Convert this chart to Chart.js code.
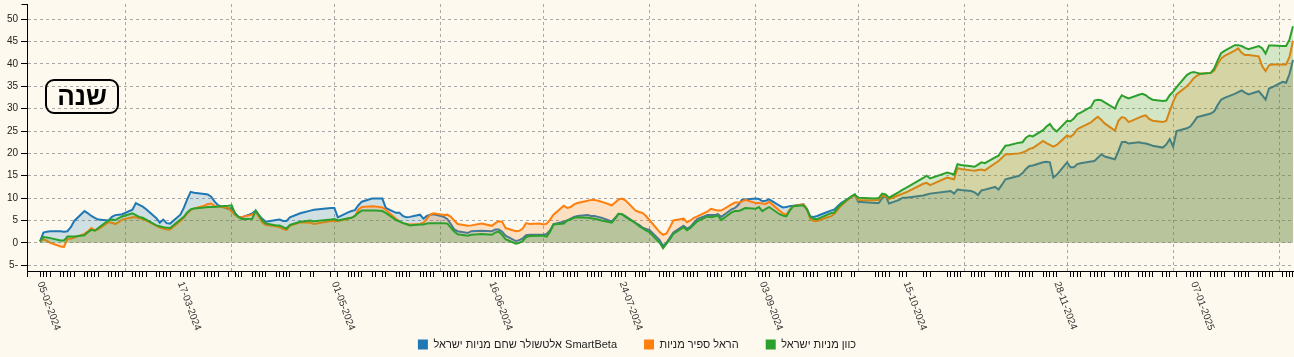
<!DOCTYPE html>
<html>
<head>
<meta charset="utf-8">
<script src="https://cdn.jsdelivr.net/npm/chart.js@4.4.1/dist/chart.umd.min.js"></script>
<style>
html,body{margin:0;padding:0;background:#fdf9ee;}
#wrap{position:relative;width:1294px;height:357px;overflow:hidden;}
canvas{display:block;}
#yearBtn{position:absolute;left:45px;top:79px;width:70px;height:31px;border:2px solid #000;border-radius:9px;
  font:bold 26px "Liberation Sans",Arial,sans-serif;color:#000;display:flex;align-items:center;justify-content:center;direction:rtl;}
</style>
</head>
<body>
<div id="wrap">
<canvas id="c" width="1294" height="357"></canvas>
<div id="yearBtn">שנה</div>
</div>
<script>
// ---- trading dates (one per data point) ----
const dates = [
"2024-02-05","2024-02-06","2024-02-07","2024-02-08","2024-02-11","2024-02-12","2024-02-13","2024-02-14","2024-02-15","2024-02-18","2024-02-19","2024-02-20","2024-02-21","2024-02-22","2024-02-25","2024-02-26","2024-02-27","2024-02-28","2024-02-29",
"2024-03-03","2024-03-04","2024-03-05","2024-03-06","2024-03-07","2024-03-10","2024-03-11","2024-03-12","2024-03-13","2024-03-14","2024-03-17","2024-03-18","2024-03-19","2024-03-20","2024-03-21","2024-03-24","2024-03-25","2024-03-26","2024-03-27","2024-03-28","2024-03-31",
"2024-04-01","2024-04-02","2024-04-03","2024-04-04","2024-04-07","2024-04-08","2024-04-09","2024-04-10","2024-04-11","2024-04-14","2024-04-15","2024-04-16","2024-04-17","2024-04-18","2024-04-21","2024-04-24","2024-04-25","2024-04-30",
"2024-05-01","2024-05-02","2024-05-05","2024-05-06","2024-05-07","2024-05-08","2024-05-09","2024-05-12","2024-05-13","2024-05-15","2024-05-16","2024-05-19","2024-05-20","2024-05-21","2024-05-22","2024-05-23","2024-05-26","2024-05-27","2024-05-28","2024-05-29","2024-05-30",
"2024-06-02","2024-06-03","2024-06-04","2024-06-05","2024-06-06","2024-06-09","2024-06-10","2024-06-13","2024-06-16","2024-06-17","2024-06-18","2024-06-19","2024-06-20","2024-06-23","2024-06-24","2024-06-25","2024-06-26","2024-06-27","2024-06-30",
"2024-07-01","2024-07-02","2024-07-03","2024-07-04","2024-07-07","2024-07-08","2024-07-09","2024-07-10","2024-07-11","2024-07-14","2024-07-15","2024-07-16","2024-07-17","2024-07-18","2024-07-21","2024-07-22","2024-07-23","2024-07-24","2024-07-25","2024-07-28","2024-07-29","2024-07-30","2024-07-31",
"2024-08-01","2024-08-04","2024-08-05","2024-08-06","2024-08-07","2024-08-08","2024-08-11","2024-08-12","2024-08-13","2024-08-14","2024-08-15","2024-08-18","2024-08-19","2024-08-20","2024-08-21","2024-08-22","2024-08-25","2024-08-26","2024-08-27","2024-08-28","2024-08-29",
"2024-09-01","2024-09-02","2024-09-03","2024-09-04","2024-09-05","2024-09-08","2024-09-09","2024-09-10","2024-09-11","2024-09-12","2024-09-15","2024-09-16","2024-09-17","2024-09-18","2024-09-19","2024-09-22","2024-09-23","2024-09-24","2024-09-25","2024-09-26","2024-09-29","2024-09-30",
"2024-10-01","2024-10-06","2024-10-07","2024-10-08","2024-10-09","2024-10-10","2024-10-13","2024-10-14","2024-10-15","2024-10-20","2024-10-21","2024-10-22","2024-10-27","2024-10-28","2024-10-29","2024-10-30","2024-10-31",
"2024-11-03","2024-11-04","2024-11-05","2024-11-06","2024-11-07","2024-11-10","2024-11-11","2024-11-12","2024-11-13","2024-11-14","2024-11-17","2024-11-18","2024-11-19","2024-11-20","2024-11-21","2024-11-24","2024-11-25","2024-11-26","2024-11-27","2024-11-28",
"2024-12-01","2024-12-02","2024-12-03","2024-12-04","2024-12-05","2024-12-08","2024-12-09","2024-12-10","2024-12-11","2024-12-12","2024-12-15","2024-12-16","2024-12-17","2024-12-18","2024-12-19","2024-12-22","2024-12-23","2024-12-24","2024-12-25","2024-12-26","2024-12-29","2024-12-30","2024-12-31",
"2025-01-01","2025-01-02","2025-01-05","2025-01-06","2025-01-07","2025-01-08","2025-01-09","2025-01-12","2025-01-13","2025-01-14","2025-01-15","2025-01-16","2025-01-19","2025-01-20","2025-01-21","2025-01-22","2025-01-23","2025-01-26","2025-01-27","2025-01-28","2025-01-29","2025-01-30",
"2025-02-02","2025-02-03","2025-02-04","2025-02-05"
];

// ---- series (cumulative return, %) ----
const altshulerSmartBeta = [
0.3,2.3,2.5,2.6,2.6,2.5,2.6,3.5,4.9,7.1,6.6,6.0,5.6,5.2,5.0,5.8,6.2,6.3,6.4,
7.4,8.9,8.5,8.1,7.5,5.5,4.5,5.2,4.4,4.3,6.3,7.8,9.7,11.4,11.2,10.9,10.8,10.3,9.2,8.4,7.6,
7.8,6.6,5.8,5.7,6.6,7.2,6.1,5.3,4.7,5.1,5.2,4.9,4.9,5.7,6.6,7.2,7.4,7.8,
7.8,5.7,6.8,7.1,7.3,8.4,9.2,9.9,9.9,9.9,7.8,6.7,6.7,6.0,5.7,5.8,6.3,5.4,6.0,6.3,6.4,
5.8,5.3,4.2,3.0,2.6,2.2,2.6,2.7,2.6,3.0,3.0,2.5,1.6,0.4,0.6,1.0,1.7,1.8,1.8,
1.8,2.0,2.8,4.2,4.7,5.0,5.4,5.8,6.0,6.2,6.0,6.0,5.8,5.6,4.8,5.6,6.5,6.4,6.0,4.4,4.0,3.4,3.1,
2.9,0.6,-0.8,0.0,1.2,2.3,3.8,3.2,3.6,4.5,5.3,6.2,6.2,6.2,6.4,5.8,7.5,7.8,8.5,9.6,9.7,
9.9,9.8,9.3,9.4,9.7,8.3,7.9,8.0,8.2,8.3,8.6,7.6,5.9,5.8,6.0,6.9,7.2,7.4,8.2,8.9,10.3,10.8,
9.2,8.9,8.9,10.0,10.5,8.8,9.6,10.1,10.1,10.6,10.8,11.0,11.5,11.6,11.0,11.9,11.8,
11.6,11.3,10.7,11.7,11.9,12.5,11.9,13.0,14.2,14.4,15.0,15.6,16.5,17.2,17.3,18.0,18.1,18.0,14.6,15.2,
18.0,16.9,16.9,17.6,17.8,18.2,18.3,19.0,19.8,19.3,18.7,20.5,22.5,22.6,22.2,22.5,22.3,22.2,22.0,21.7,21.3,22.0,23.2,
21.5,25.0,25.6,26.0,27.0,28.1,28.3,28.9,29.4,30.8,32.0,32.4,33.3,33.7,34.1,33.6,33.2,33.9,33.0,32.0,34.5,34.8,
36.0,35.8,37.8,40.9
];
const harelSapir = [
0.3,0.8,0.5,0.0,-0.8,-0.9,0.9,0.9,1.2,2.0,2.6,3.3,2.8,3.0,4.6,4.5,4.2,4.6,5.2,
5.7,5.7,5.5,5.3,5.0,3.8,3.4,3.2,3.0,3.0,4.9,5.6,6.6,7.3,7.7,8.3,8.7,8.8,8.2,8.1,7.8,
7.0,6.2,5.7,5.8,6.3,6.9,5.8,4.5,4.0,3.7,3.5,3.1,2.9,3.8,4.6,4.5,4.2,4.9,
4.9,4.8,5.4,5.6,6.0,7.4,8.0,8.2,8.1,7.9,7.4,5.4,4.8,4.4,4.2,4.1,4.2,4.5,5.4,6.3,6.6,
6.2,6.3,5.8,5.0,4.2,3.8,3.9,4.3,3.8,4.4,4.8,4.7,3.3,2.6,2.7,3.2,4.4,4.2,4.3,
4.1,4.3,5.2,6.3,8.3,7.8,8.0,8.6,8.9,9.4,9.6,9.6,9.4,9.2,8.4,9.0,9.7,9.9,9.5,7.2,6.9,6.7,6.0,
5.1,2.4,1.8,2.1,3.5,5.0,5.4,4.6,5.0,5.6,5.9,7.0,7.6,7.4,7.2,7.2,8.6,9.0,9.0,9.2,9.6,
8.9,8.9,8.8,8.7,9.2,7.2,6.6,6.3,7.4,8.2,8.6,7.6,5.3,4.9,4.9,5.7,5.9,6.5,7.4,8.3,10.3,10.7,
9.6,9.5,9.6,10.5,10.4,9.8,10.7,11.0,11.3,13.2,13.4,12.9,14.6,14.4,14.2,16.7,16.5,
16.2,16.1,16.3,16.4,16.2,17.8,18.3,19.0,19.8,19.8,20.0,20.2,20.5,21.0,21.2,22.8,22.3,21.9,21.5,21.9,
24.0,23.7,24.3,25.4,25.8,26.9,27.6,28.2,27.5,26.7,25.1,27.3,28.1,27.9,27.0,28.0,28.3,28.5,27.7,27.3,27.0,27.3,29.5,
31.5,33.2,35.0,35.8,36.8,37.4,37.8,38.0,38.5,40.0,41.2,41.8,43.0,43.5,42.5,42.0,42.0,41.7,39.5,38.4,39.7,39.9,
39.9,39.9,41.6,45.2
];
const kavvunIsrael = [
0.3,1.3,1.2,1.05,0.5,0.5,1.4,1.4,1.4,1.7,2.4,2.9,2.7,3.3,5.0,5.2,5.1,5.5,5.9,
6.6,6.2,5.8,5.6,5.2,3.9,3.7,3.5,3.4,3.3,5.2,5.8,6.8,7.5,7.7,7.9,8.0,8.0,8.0,8.1,8.3,
8.4,6.5,5.8,5.3,5.4,7.2,6.1,5.0,4.3,3.9,3.9,3.5,3.2,4.0,4.7,5.0,4.8,5.2,
5.3,5.0,5.5,5.6,6.0,6.7,7.2,7.2,7.2,7.1,6.7,5.1,4.8,4.4,4.2,3.9,4.1,4.1,4.3,4.4,4.4,
4.4,4.3,3.4,2.5,1.9,1.6,1.8,2.0,1.8,2.3,2.5,1.8,0.8,-0.2,0.0,0.4,1.3,1.5,1.6,
1.6,1.4,2.5,4.1,4.3,5.0,5.2,5.6,5.7,5.6,5.5,5.4,5.2,5.0,4.5,5.4,6.5,6.4,5.8,4.4,3.7,3.3,2.8,
2.4,0.0,-1.2,-0.2,0.8,2.0,3.5,2.8,3.3,4.1,4.8,5.9,5.7,5.9,6.1,5.1,6.8,7.1,7.1,7.4,7.8,
7.6,8.0,7.1,7.6,8.0,6.4,6.1,5.9,7.2,8.2,8.4,7.5,5.8,5.4,5.3,6.3,6.6,6.8,7.8,8.6,10.4,10.8,
10.1,9.9,10.0,11.0,10.8,10.1,11.4,11.9,12.3,14.5,15.0,14.4,15.7,15.5,15.3,17.6,17.4,
17.1,17.0,17.5,18.0,17.8,19.1,19.5,20.6,21.7,21.8,22.4,22.5,23.5,24.0,23.8,25.2,26.0,26.6,25.5,24.9,
27.3,27.2,27.8,28.8,29.1,30.4,31.8,32.0,31.9,31.4,30.0,31.8,33.0,32.6,32.3,33.1,33.3,33.0,32.4,32.0,31.7,31.8,33.0,
33.8,34.8,37.5,38.0,38.2,38.0,37.8,38.0,39.0,40.8,42.4,42.9,44.2,44.2,44.0,43.6,43.3,44.0,43.5,42.3,44.1,44.1,
44.0,44.0,45.5,48.4
];

const seriesNames = ["SmartBeta אלטשולר שחם מניות ישראל", "הראל ספיר מניות", "כוון מניות ישראל"];
const seriesColors = ["#1f77b4", "#ff7f0e", "#2ca02c"];
const seriesFills = ["rgba(31,119,180,0.2)", "rgba(255,127,14,0.2)", "rgba(44,160,44,0.2)"];

// x-axis labels shown (dd-mm-yyyy) and month gridlines
const tickLabels = ["05-02-2024","17-03-2024","01-05-2024","16-06-2024","24-07-2024","03-09-2024","15-10-2024","28-11-2024","07-01-2025"];
const monthStarts = ["2024-03-01","2024-04-01","2024-05-01","2024-06-01","2024-07-01","2024-08-01","2024-09-01","2024-10-01","2024-11-01","2024-12-01","2025-01-01","2025-02-01"];
const yTicks = [-5,0,5,10,15,20,25,30,35,40,45,50];

// ---- helpers ----
const BASE = Date.UTC(2024,1,5);
const dayOf = s => { const p = s.split('-').map(Number); return (Date.UTC(p[0], p[1]-1, p[2]) - BASE) / 864e5; };
const dayOfDMY = s => { const p = s.split('-'); return dayOf(p[2] + '-' + p[1] + '-' + p[0]); };

const FONT = '"Liberation Sans", Arial, sans-serif';
Chart.defaults.font.family = FONT;
Chart.defaults.color = '#222';

const allSeries = [altshulerSmartBeta, harelSapir, kavvunIsrael];
const drawOrder = [2, 1, 0]; // green drawn on top
const datasets = allSeries.map((vals, k) => ({
  label: seriesNames[k],
  data: dates.map((d, i) => ({x: dayOf(d), y: vals[i]})),
  borderColor: seriesColors[k],
  backgroundColor: seriesFills[k],
  fill: 'origin',
  borderWidth: 2,
  pointRadius: 0,
  pointHoverRadius: 0,
  tension: 0,
  order: drawOrder[k]
}));

const monthSet = new Set(monthStarts.map(dayOf));
const GRID = '#a8a8a8';

const decor = {
  id: 'decor',
  afterLayout(chart) {
    if (chart.legend) { chart.legend.right -= 20; }
  },
  afterDraw(chart) {
    const {ctx, chartArea: a} = chart;
    const xs = chart.scales.x;
    ctx.save();
    ctx.strokeStyle = '#000';
    ctx.lineWidth = 1;
    ctx.beginPath();
    const L = Math.round(a.left) + 0.5;
    ctx.moveTo(L - 6, Math.round(a.top) + 0.5); ctx.lineTo(L, Math.round(a.top) + 0.5);
    ctx.moveTo(L, Math.round(a.bottom)); ctx.lineTo(L, Math.round(a.bottom) + 6);
    ctx.stroke();
    ctx.fillStyle = '#333';
    ctx.font = '10px ' + FONT;
    ctx.textAlign = 'left';
    ctx.textBaseline = 'middle';
    tickLabels.forEach(s => {
      const px = xs.getPixelForValue(dayOfDMY(s));
      ctx.save();
      ctx.translate(px, a.bottom + 11);
      ctx.rotate(70 * Math.PI / 180);
      ctx.fillText(s, 0, 0);
      ctx.restore();
    });
    ctx.restore();
  }
};

new Chart(document.getElementById('c'), {
  type: 'line',
  data: {datasets},
  options: {
    responsive: false,
    animation: false,
    devicePixelRatio: 1,
    layout: {padding: {top: 4, right: 0, bottom: -3, left: 0}},
    interaction: {mode: null},
    plugins: {
      tooltip: {enabled: false},
      legend: {
        position: 'bottom',
        reverse: true,
        rtl: false,
        textDirection: 'rtl',
        labels: {
          boxWidth: 10, boxHeight: 10, padding: 27,
          font: {size: 11, family: FONT},
          color: '#222',
          generateLabels: chart => Chart.defaults.plugins.legend.labels.generateLabels(chart)
            .map(l => Object.assign(l, {fillStyle: seriesColors[l.datasetIndex], strokeStyle: seriesColors[l.datasetIndex], lineWidth: 0}))
        }
      }
    },
    scales: {
      x: {
        type: 'linear',
        min: -3.8,
        max: 366.3,
        afterBuildTicks: ax => {
          const t = monthStarts.map(s => ({value: dayOf(s)})).concat(dates.map(s => ({value: dayOf(s)})));
          t.sort((p, q) => p.value - q.value);
          ax.ticks = t;
        },
        afterFit: ax => { ax.height = 41; ax.paddingLeft = 0; ax.paddingRight = 0; },
        ticks: {display: false},
        grid: {
          lineWidth: 1,
          color: c => (c.tick && monthSet.has(c.tick.value)) ? GRID : 'rgba(0,0,0,0)',
          tickColor: c => (c.tick && monthSet.has(c.tick.value)) ? 'rgba(0,0,0,0)' : '#000',
          tickLength: 6,
          tickWidth: 1,
          tickBorderDash: []
        },
        border: {display: true, color: '#000', width: 1, dash: [3, 3]}
      },
      y: {
        type: 'linear',
        min: -6.3,
        max: 53.4,
        afterBuildTicks: ax => { ax.ticks = yTicks.map(v => ({value: v})); },
        afterFit: ax => { ax.width = 27; ax.paddingTop = 0; ax.paddingBottom = 0; },
        ticks: {font: {size: 10, family: FONT}, color: '#222', padding: 3, callback: v => String(v)},
        grid: {
          lineWidth: 1,
          color: GRID,
          tickColor: '#000',
          tickLength: 6,
          tickWidth: 1,
          tickBorderDash: []
        },
        border: {display: true, color: '#000', width: 1, dash: [3, 3]}
      }
    }
  },
  plugins: [decor]
});
</script>
</body>
</html>
